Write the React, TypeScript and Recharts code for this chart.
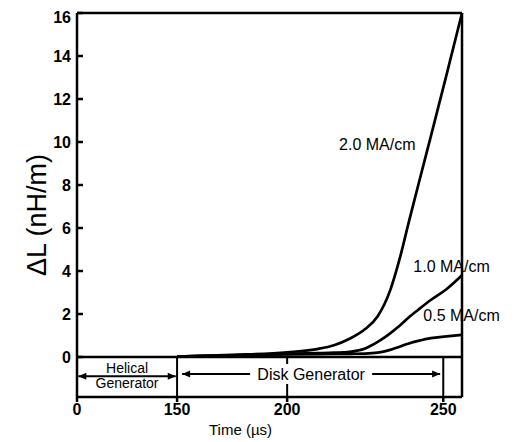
import React from "react";
import { LineChart, Line, XAxis, YAxis, ReferenceLine, ReferenceDot } from "recharts";

// time (µs) samples shared by the three curves
const times = [150, 175, 200, 210, 215, 220, 225, 229, 233, 236, 239, 242, 246, 251, 256];
const ma20 = [0.02, 0.1, 0.22, 0.38, 0.55, 0.85, 1.3, 1.9, 3.1, 4.55, 6.3, 8.0, 10.25, 13.1, 16.0];
const ma10 = [0.02, 0.08, 0.15, 0.18, 0.2, 0.24, 0.4, 0.7, 1.1, 1.45, 1.85, 2.2, 2.65, 3.15, 3.8];
const ma05 = [0.02, 0.08, 0.12, 0.13, 0.14, 0.15, 0.16, 0.2, 0.33, 0.48, 0.63, 0.75, 0.88, 0.96, 1.03];

const xTickTimes = [0, 150, 200, 250];
const yTicks = [0, 2, 4, 6, 8, 10, 12, 14, 16];
const yMin = -1.86;
const yMax = 16;

// the time axis is broken: every segment has its own length
const breakTimes = [0, 150, 200, 250];
const breakPos = [0, 100, 210, 366];

const toAxis = (t: number) => {
  let i = 0;
  while (i < breakTimes.length - 2 && t > breakTimes[i + 1]) i++;
  const slope = (breakPos[i + 1] - breakPos[i]) / (breakTimes[i + 1] - breakTimes[i]);
  return breakPos[i] + (t - breakTimes[i]) * slope;
};

const xMax = toAxis(times[times.length - 1]);
const xTicks = xTickTimes.map(toAxis);

const data = times.map((t, i) => ({
  u: toAxis(t),
  ma20: ma20[i],
  ma10: ma10[i],
  ma05: ma05[i],
}));

const curveLabels = [
  { text: "2.0 MA/cm", t: 216.3, v: 9.9 },
  { text: "1.0 MA/cm", t: 240.1, v: 4.2 },
  { text: "0.5 MA/cm", t: 243.3, v: 1.95 },
];

const dividers = [150, 200, 250];

const font = "'Liberation Sans', Arial, Helvetica, sans-serif";

const head = (x: number, y: number, dir: number) => {
  const len = 8;
  const hw = 3.5;
  return `${x},${y} ${x - dir * len},${y - hw} ${x - dir * len},${y + hw}`;
};

const Arrow = (p: any) => {
  const { x1, y1, x2, text, gap } = p;
  const mid = (x1 + x2) / 2;
  const two = text.length > 1;
  return (
    <g>
      <line x1={x1} y1={y1} x2={x2} y2={y1} stroke="#000" strokeWidth={2} />
      <polygon points={head(x1, y1, -1)} fill="#000" />
      <polygon points={head(x2, y1, 1)} fill="#000" />
      {gap ? <rect x={mid - gap / 2} y={y1 - 10} width={gap} height={20} fill="#fff" /> : null}
      {text.map((s: string, k: number) => (
        <text
          key={k}
          x={mid}
          y={y1 + (two ? (k === 0 ? -3 : 12) : 6)}
          textAnchor="middle"
          fontSize={two ? 14 : 16}
          fontFamily={font}
          fill="#000"
        >
          {s}
        </text>
      ))}
    </g>
  );
};

export default function App() {
  return (
    <div style={{ fontFamily: font }}>
      <LineChart
        width={510}
        height={434}
        data={data}
        margin={{ top: 5, right: 56, bottom: 5, left: 5 }}
      >
        <XAxis
          type="number"
          dataKey="u"
          domain={[0, xMax]}
          ticks={xTicks}
          tickFormatter={(v) => {
            const i = xTicks.findIndex((p) => Math.abs(p - v) < 0.01);
            return i >= 0 ? String(xTickTimes[i]) : "";
          }}
          height={40}
          tickSize={5}
          tickMargin={2}
          stroke="#000"
          strokeWidth={2.5}
          tick={{ fill: "#000", fontSize: 16, fontWeight: "bold", fontFamily: font }}
          label={{
            content: (props: any) => {
              const vb = props.viewBox;
              return (
                <text
                  x={vb.x + vb.width / 2 - 29}
                  y={vb.y + 38}
                  textAnchor="middle"
                  fontSize={15}
                  fontFamily={font}
                  fill="#000"
                >
                  Time (µs)
                </text>
              );
            },
          }}
        />
        <YAxis
          type="number"
          domain={[yMin, yMax]}
          ticks={yTicks}
          width={64}
          tickSize={-6}
          tickMargin={2}
          stroke="#000"
          strokeWidth={2.5}
          tick={{ dx: -10, fill: "#000", fontSize: 16, fontWeight: "bold", fontFamily: font }}
          label={{
            content: (props: any) => {
              const vb = props.viewBox;
              const cx = vb.x + 24;
              const cy = vb.y + vb.height / 2 + 10;
              return (
                <text
                  transform={`translate(${cx},${cy}) rotate(-90)`}
                  textAnchor="middle"
                  dominantBaseline="central"
                  fontSize={27}
                  fontFamily={font}
                  fill="#000"
                >
                  ΔL (nH/m)
                </text>
              );
            },
          }}
        />
        <ReferenceLine y={yMax} stroke="#000" strokeWidth={2.5} />
        <ReferenceLine x={xMax} stroke="#000" strokeWidth={2.5} />
        {dividers.map((t) => (
          <ReferenceLine
            key={t}
            segment={[
              { x: toAxis(t), y: 0 },
              { x: toAxis(t), y: yMin },
            ]}
            stroke="#000"
            strokeWidth={2}
          />
        ))}
        <ReferenceLine
          segment={[
            { x: toAxis(2), y: -0.89 },
            { x: toAxis(148), y: -0.89 },
          ]}
          shape={(p: any) => <Arrow {...p} text={["Helical", "Generator"]} />}
        />
        <ReferenceLine
          segment={[
            { x: toAxis(152.3), y: -0.79 },
            { x: toAxis(249), y: -0.79 },
          ]}
          shape={(p: any) => <Arrow {...p} text={["Disk Generator"]} gap={122} />}
        />
        <ReferenceLine y={0} stroke="#000" strokeWidth={2.5} />
        <Line dataKey="ma20" type="monotone" stroke="#000" strokeWidth={2.7} dot={false} isAnimationActive={false} />
        <Line dataKey="ma10" type="monotone" stroke="#000" strokeWidth={2.7} dot={false} isAnimationActive={false} />
        <Line dataKey="ma05" type="monotone" stroke="#000" strokeWidth={2.7} dot={false} isAnimationActive={false} />
        {curveLabels.map((c) => (
          <ReferenceDot
            key={c.text}
            x={toAxis(c.t)}
            y={c.v}
            r={1}
            fill="none"
            stroke="none"
            label={{
              value: c.text,
              position: "right",
              offset: 0,
              fill: "#000",
              fontSize: 16,
              fontFamily: font,
            }}
          />
        ))}
      </LineChart>
    </div>
  );
}
